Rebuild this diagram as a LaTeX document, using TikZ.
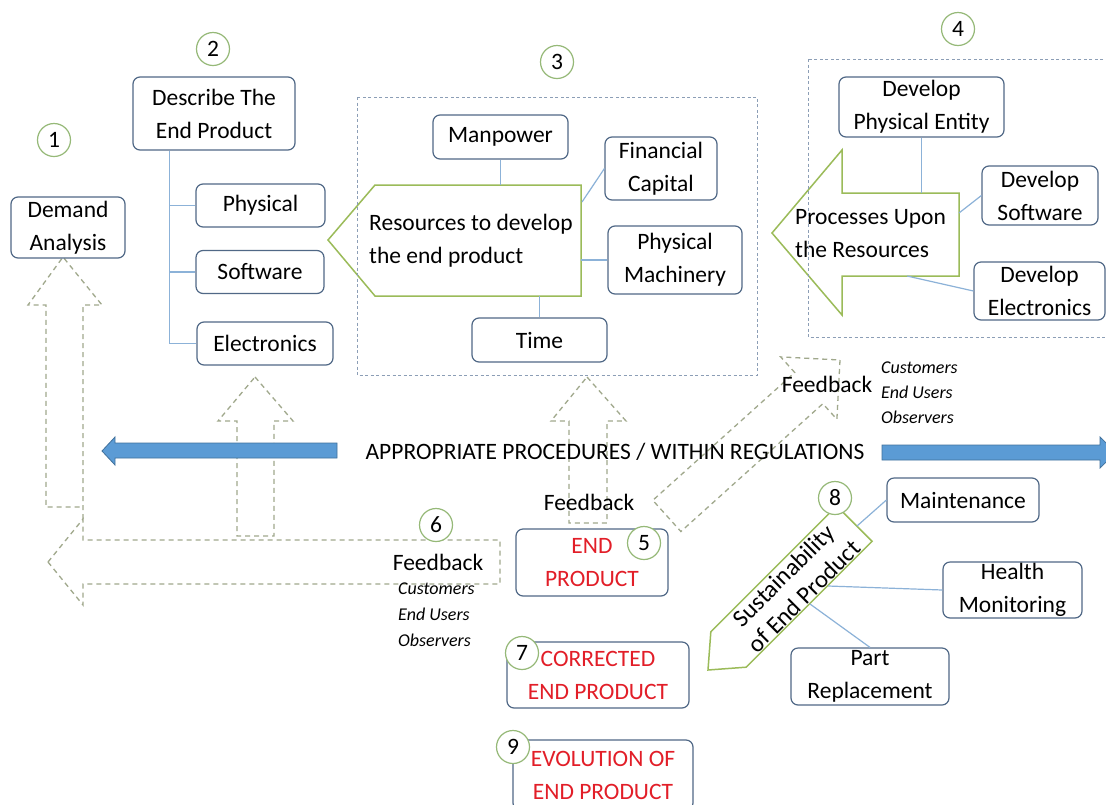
\documentclass[tikz,border=0pt]{standalone}
\usepackage{fontspec}
\setmainfont{Carlito}
\definecolor{boxc}{RGB}{80,104,134}
\definecolor{linec}{RGB}{140,178,216}
\definecolor{grn}{RGB}{155,187,89}
\definecolor{circc}{RGB}{150,185,120}
\definecolor{dashc}{RGB}{160,168,140}
\definecolor{dboxc}{RGB}{140,158,182}
\definecolor{bluef}{RGB}{91,155,213}
\definecolor{blued}{RGB}{65,113,156}
\definecolor{redt}{RGB}{226,30,40}
\begin{document}
\begin{tikzpicture}[x=1pt,y=-1pt,
  font=\fontsize{23.5}{33}\selectfont,
  rbox/.style={draw=boxc, line width=1.2pt, rounded corners=7pt, fill=white, align=center, inner sep=0pt},
  num/.style={circle, draw=circc, line width=1.2pt, fill=white, minimum size=33pt, inner sep=0pt},
  conn/.style={draw=linec, line width=1.2pt},
  darrow/.style={draw=dashc, line width=1.3pt, dash pattern=on 5pt off 4pt},
  dbox/.style={draw=dboxc, line width=1pt, dash pattern=on 3pt off 2.5pt},
  garrow/.style={draw=grn, line width=1.5pt, fill=white},
  barrow/.style={fill=bluef, draw=blued, line width=0.8pt},
  ital/.style={font=\fontsize{18}{26}\selectfont\itshape, align=left, inner sep=0pt, anchor=west},
  lbl/.style={inner sep=0pt},
  redtxt/.style={text=redt}]
\path[use as bounding box, fill=white] (0,0) rectangle (1106,804);
\clip (0,0) rectangle (1106,804);

% dashed feedback arrows
\draw[darrow] (83,519) -- (83,305) -- (102,305) -- (63,257) -- (28,305) -- (46,305) -- (46,507) -- (83,507);
\draw[darrow] (48,562) -- (83,519) -- (83,540) -- (500,540) -- (500,584) -- (83,584) -- (83,605) -- cycle;
\draw[darrow] (255,377) -- (293,421) -- (274,421) -- (274,536) -- (237,536) -- (237,421) -- (218,421) -- cycle;
\draw[darrow] (587,377) -- (626,421) -- (607,421) -- (607,523) -- (569,523) -- (569,421) -- (551,421) -- cycle;
\begin{scope}[shift={(840,360)}, rotate=42]
  \draw[darrow] (0,0) -- (-42,42) -- (-42,21) -- (-233,21) -- (-233,-21) -- (-42,-21) -- (-42,-42) -- cycle;
\end{scope}

% blue arrows
\draw[barrow] (102,451) -- (115,437) -- (115,443) -- (337,443) -- (337,458) -- (115,458) -- (115,465) -- cycle;
\draw[barrow] (882,445) -- (1100,445) -- (1100,437) -- (1116,452.5) -- (1100,468) -- (1100,460) -- (882,460) -- cycle;
\node[lbl] (reg) at (615,452) {APPROPRIATE PROCEDURES / WITHIN REGULATIONS};

% green shapes
\draw[garrow] (328,240) -- (375,185) -- (581,185) -- (581,296) -- (375,296) -- cycle;
\draw[garrow] (772,233) -- (842,150) -- (842,193) -- (959,193) -- (959,276) -- (842,276) -- (842,315) -- cycle;
\begin{scope}[shift={(708,670)}, rotate=45]
  \draw[garrow] (0,0) -- (29,25) -- (207,25) -- (207,-25) -- (29,-25) -- cycle;
  \node[rotate=45, align=center, inner sep=0pt, font=\fontsize{24.5}{29}\selectfont] (sust) at (120,1) {Sustainability\\of End Product};
\end{scope}
\node[anchor=west, align=left, inner sep=0pt] (restext) at (369,241) {Resources to develop\\the end product};
\node[anchor=west, align=left, inner sep=0pt] (proctext) at (795,234) {Processes Upon\\the Resources};

% boxes
\node[rbox, minimum width=114pt, minimum height=61pt] (demand) at (68,227.5) {Demand\\Analysis};
\node[rbox, minimum width=162pt, minimum height=73pt] (describe) at (214,113.5) {Describe The\\End Product};
\node[rbox, minimum width=129pt, minimum height=43pt] (physical) at (260.5,205.5) {Physical};
\node[rbox, minimum width=128pt, minimum height=43pt] (software) at (260,272) {Software};
\node[rbox, minimum width=136pt, minimum height=43pt] (electronics) at (265,343.5) {Electronics};
\node[rbox, minimum width=135pt, minimum height=44pt] (manpower) at (500.5,137) {Manpower};
\node[rbox, minimum width=112pt, minimum height=63pt] (financial) at (661,168.5) {Financial\\Capital};
\node[rbox, minimum width=134pt, minimum height=68pt] (machinery) at (675,260) {Physical\\Machinery};
\node[rbox, minimum width=135pt, minimum height=44pt] (time) at (539.5,340) {Time};
\node[rbox, minimum width=165pt, minimum height=60pt] (devphys) at (921.5,107) {Develop\\Physical Entity};
\node[rbox, minimum width=116pt, minimum height=59pt] (devsoft) at (1040,195.5) {Develop\\Software};
\node[rbox, minimum width=131pt, minimum height=58pt] (develec) at (1039.5,291) {Develop\\Electronics};
\node[rbox, minimum width=152pt, minimum height=67pt, redtxt] (endprod) at (592,562.5) {END\\PRODUCT};
\node[rbox, minimum width=182pt, minimum height=66pt, redtxt] (corrected) at (598,675) {CORRECTED\\END PRODUCT};
\node[rbox, minimum width=180pt, minimum height=70pt, redtxt] (evolution) at (603,775) {EVOLUTION OF\\END PRODUCT};
\node[rbox, minimum width=152pt, minimum height=44pt] (maintenance) at (963,500) {Maintenance};
\node[rbox, minimum width=139pt, minimum height=56pt] (health) at (1012.5,590) {Health\\Monitoring};
\node[rbox, minimum width=158pt, minimum height=57pt] (partrep) at (870,676.5) {Part\\Replacement};

% connectors
\draw[conn] ([xshift=37pt]describe.south west) |- (physical.west);
\draw[conn] ([xshift=37pt]describe.south west) |- (software.west);
\draw[conn] ([xshift=37pt]describe.south west) |- (electronics.west);
\coordinate (resN) at (500.5,185);
\coordinate (resNE) at (582,202);
\coordinate (resE) at (581,260);
\coordinate (resS) at (539.5,296);
\draw[conn] (manpower.south) -- (resN);
\draw[conn] (resNE) -- (financial.west);
\draw[conn] (resE) -- (machinery.west);
\draw[conn] (resS) -- (time.north);
\coordinate (procN) at (921.5,193);
\coordinate (procE) at (959,213);
\coordinate (procS) at (907,276);
\draw[conn] (devphys.south) -- (procN);
\draw[conn] (procE) -- (devsoft.west);
\draw[conn] (procS) -- (develec.west);
\coordinate (susA) at (857,526);
\coordinate (susB) at (828,586);
\coordinate (susC) at (810,604);
\draw[conn] (susA) -- (maintenance.west);
\draw[conn] (susB) -- (health.west);
\draw[conn] (susC) -- (partrep.north);

% dashed group boxes
\draw[dbox] (357,97) rectangle (757,375);
\draw[dbox] (808,59) rectangle (1112,337);

% number circles
\node[num] (n1) at (54,140) {1};
\node[num] (n2) at (213,49) {2};
\node[num] (n3) at (557,62) {3};
\node[num] (n4) at (958,29) {4};
\node[num] (n5) at (644,543) {5};
\node[num] (n6) at (436,525) {6};
\node[num] (n7) at (522,653) {7};
\node[num] (n8) at (835,498) {8};
\node[num] (n9) at (513,747) {9};

% feedback labels
\node[lbl] (fb6) at (438,562) {Feedback};
\node[ital] (who6) at (398,615) {Customers\\End Users\\Observers};
\node[lbl] (fb5) at (589,502) {Feedback};
\node[lbl] (fbd) at (827,384) {Feedback};
\node[ital, font=\fontsize{18}{25}\selectfont\itshape] (whod) at (881,393) {Customers\\End Users\\Observers};
\end{tikzpicture}
\end{document}
